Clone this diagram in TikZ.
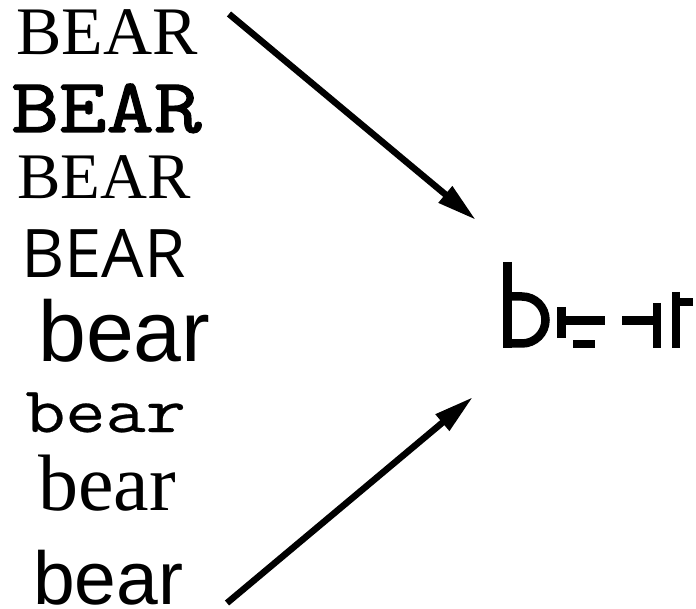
\documentclass[tikz,border=0pt]{standalone}
\usepackage{fontspec}
\usetikzlibrary{arrows.meta}

\newfontfamily\serifface{Liberation Serif}
\newfontfamily\monoheavy{Latin Modern Mono}[FakeStretch=1.2,FakeBold=1.8]
\newfontfamily\monoface{Latin Modern Mono}[FakeStretch=1.2,FakeBold=0.4]
\newfontfamily\humanface{Open Sans}
\newfontfamily\grotface{Liberation Sans}

\begin{document}
\begin{tikzpicture}[x=1pt, y=1pt,
  word/.style={anchor=base west, inner sep=0pt},
  stroke/.style={line width=8.5pt, line cap=butt},
  arr/.style={line width=6.5pt, -{Triangle[length=40pt, width=20pt]}}]
\useasboundingbox (0,0) rectangle (696,-609);

% the eight renderings of the word
\node[word] (bearA) at (16,-55)  {\fontsize{68}{68}\selectfont\serifface BEAR};
\node[word] (bearB) at (11,-132) {\fontsize{77}{77}\selectfont\monoheavy BEAR};
\node[word] (bearC) at (17,-199) {\fontsize{65}{65}\selectfont\serifface BEAR};
\node[word] (bearD) at (21,-278) {\fontsize{67}{67}\selectfont\humanface BEAR};
\node[word] (bearE) at (38,-362) {\fontsize{86}{86}\selectfont\grotface bear};
\node[word] (bearF) at (25,-432) {\fontsize{65}{65}\selectfont\monoface bear};
\node[word] (bearG) at (38,-510) {\fontsize{80}{80}\selectfont\serifface bear};
\node[word] (bearH) at (33,-604) {\fontsize{75}{75}\selectfont\grotface bear};

% abstract form on the right
\draw[stroke] (507.5,-262) -- (507.5,-348);
\draw[stroke] (507.5,-296.5) -- (522,-296.5)
  arc[start angle=90, end angle=-90, radius=23.5] -- (507.5,-343.5);
\draw[stroke] (561.5,-307) -- (561.5,-338);
\draw[stroke] (561.5,-320.5) -- (605,-320.5);
\draw[stroke] (573,-344) -- (595,-344);
\draw[stroke] (622,-320.5) -- (657,-320.5);
\draw[stroke] (657,-303) -- (657,-348);
\draw[stroke] (676,-292) -- (676,-348);
\draw[stroke] (676,-302) -- (693,-302);

\coordinate (topFrom) at (229,-14);
\coordinate (topTo) at (476,-220);
\coordinate (botFrom) at (227,-603);
\coordinate (botTo) at (473,-397);

\draw[arr] (topFrom) -- (topTo);
\draw[arr] (botFrom) -- (botTo);
\end{tikzpicture}
\end{document}
